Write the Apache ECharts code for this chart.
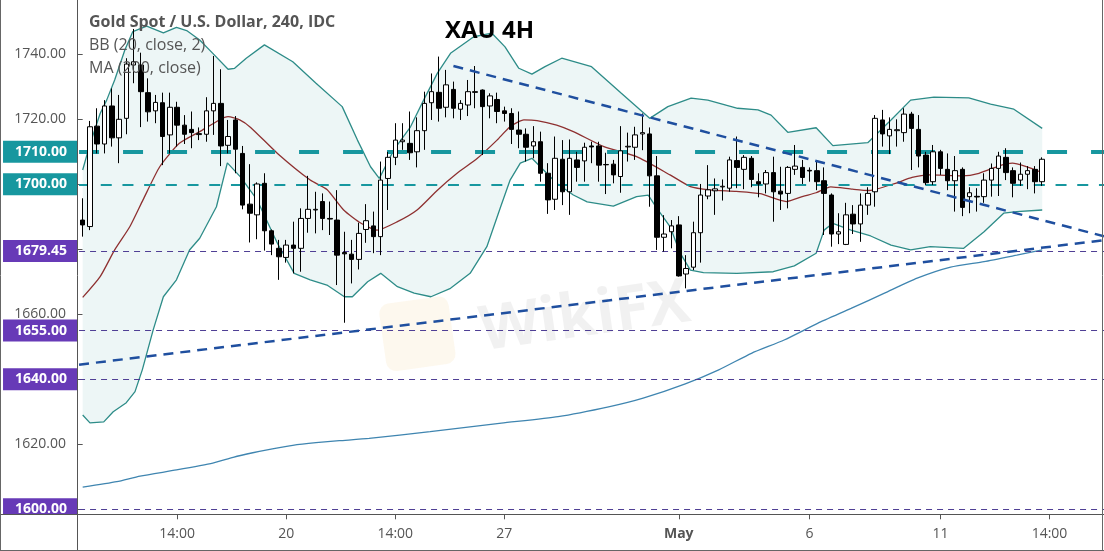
<!DOCTYPE html>
<html><head><meta charset="utf-8">
<script src="https://cdn.jsdelivr.net/npm/echarts@6/dist/echarts.min.js"></script>
<style>html,body{margin:0;padding:0;background:#fff}#c{width:1104px;height:551px}</style>
</head><body><div id="c"></div>
<script>
// ---------- DATA ----------
const N_SLOTS = 141;                       // 4h bar slots on the time axis (incl. right margin)
const tickIdx  = [13, 28, 43, 58, 82, 100, 118, 133];
const tickText = ['14:00', '20', '14:00', '27', 'May', '6', '11', '14:00'];

// candles: [open, close, low, high]
const candles = [
[1689.0,1687.5,1683.9,1695.7],[1687.0,1717.7,1685.9,1719.5],[1717.9,1712.4,1709.5,1723.4],[1712.4,1724.1,1709.5,1725.9],
[1724.1,1714.3,1711.6,1729.5],[1714.3,1720.0,1706.5,1727.5],[1720.3,1737.0,1715.4,1738.8],[1736.7,1737.7,1731.1,1747.8],
[1736.7,1728.5,1717.6,1740.5],[1728.2,1722.3,1719.3,1732.6],[1722.6,1725.2,1718.8,1727.5],[1725.1,1714.7,1705.9,1728.2],
[1715.2,1723.7,1709.5,1728.2],[1723.7,1718.2,1711.6,1725.4],[1718.2,1715.4,1712.4,1721.3],[1716.9,1715.9,1711.1,1722.4],
[1715.3,1715.6,1713.6,1717.5],[1715.4,1722.6,1713.1,1726.8],[1722.6,1724.9,1715.2,1739.5],[1724.9,1711.8,1705.6,1735.4],
[1712.0,1714.7,1709.5,1719.8],[1719.8,1710.8,1703.4,1721.0],[1709.5,1693.6,1692.3,1711.8],[1693.9,1691.1,1682.1,1706.2],
[1690.6,1700.1,1683.1,1700.6],[1700.3,1685.7,1679.6,1703.4],[1685.7,1681.6,1678.2,1686.1],[1680.3,1677.7,1670.6,1682.9],
[1677.5,1681.3,1675.9,1682.9],[1681.3,1680.3,1672.6,1688.5],[1680.3,1689.5,1673.1,1692.6],[1689.5,1692.3,1685.1,1702.6],
[1692.1,1692.3,1684.9,1697.7],[1694.7,1689.5,1685.9,1697.2],[1689.5,1689.3,1684.4,1694.7],[1689.0,1678.2,1669.0,1698.2],
[1679.0,1678.6,1657.4,1685.4],[1678.5,1676.9,1669.5,1682.9],[1676.9,1684.9,1673.8,1688.2],[1686.1,1688.8,1682.0,1693.9],
[1687.2,1683.9,1678.8,1691.6],[1683.9,1701.3,1678.2,1707.0],[1701.8,1708.3,1692.1,1710.0],[1708.3,1713.6,1705.9,1718.8],
[1713.1,1713.6,1710.6,1718.8],[1712.6,1709.7,1707.5,1722.4],[1710.0,1716.5,1705.2,1720.6],[1716.5,1724.9,1710.6,1728.5],
[1725.1,1728.5,1719.8,1734.1],[1728.3,1723.4,1719.3,1739.3],[1723.7,1730.6,1720.6,1735.2],[1729.2,1723.4,1720.3,1731.6],
[1723.1,1724.9,1719.8,1725.9],[1724.4,1728.5,1721.0,1732.1],[1728.5,1728.3,1723.4,1736.4],[1729.0,1723.9,1709.0,1729.2],
[1724.1,1727.2,1720.3,1728.0],[1726.1,1722.4,1718.8,1728.2],[1722.6,1721.8,1719.3,1723.9],[1721.8,1716.9,1712.4,1723.4],
[1716.7,1715.4,1711.1,1722.4],[1715.4,1711.4,1707.0,1717.2],[1711.8,1713.1,1708.0,1717.9],[1713.1,1703.4,1700.8,1716.2],
[1703.4,1695.2,1690.9,1706.5],[1695.4,1708.0,1692.1,1714.7],[1707.7,1697.7,1693.6,1713.6],[1697.7,1708.0,1690.6,1713.8],
[1707.5,1705.2,1700.8,1710.0],[1707.2,1711.4,1700.8,1712.8],[1711.8,1711.5,1706.5,1713.1],[1711.8,1705.9,1700.8,1713.1],
[1706.1,1706.0,1697.0,1709.7],[1706.2,1702.9,1700.3,1707.5],[1702.4,1710.3,1697.4,1717.9],[1711.5,1711.7,1707.0,1715.9],
[1711.4,1715.2,1707.5,1717.7],[1715.5,1715.9,1710.5,1721.8],[1715.5,1702.6,1693.1,1717.5],[1702.6,1683.7,1679.8,1708.7],
[1683.7,1684.7,1679.3,1690.5],[1685.4,1687.2,1680.3,1689.0],[1687.5,1671.8,1671.6,1690.2],[1672.4,1674.1,1668.0,1678.2],
[1674.5,1685.1,1673.6,1688.5],[1685.1,1696.7,1675.9,1700.1],[1696.4,1698.3,1695.4,1705.9],[1698.0,1698.6,1690.6,1701.8],
[1699.2,1699.4,1695.0,1701.5],[1698.8,1707.5,1697.7,1708.5],[1707.3,1705.2,1698.8,1714.7],[1704.6,1708.3,1698.5,1709.0],
[1708.0,1701.5,1699.1,1708.7],[1700.8,1700.1,1696.0,1703.4],[1700.1,1703.6,1697.2,1704.4],[1703.6,1697.7,1688.5,1708.5],
[1697.9,1697.0,1692.1,1705.4],[1697.2,1705.2,1692.6,1705.6],[1704.6,1705.6,1702.9,1712.1],[1705.2,1702.1,1700.1,1707.5],
[1704.3,1704.1,1700.8,1705.2],[1704.2,1700.8,1698.2,1707.0],[1701.1,1697.2,1684.4,1705.2],[1696.7,1684.7,1680.8,1697.2],
[1684.7,1685.4,1681.6,1691.1],[1681.5,1690.6,1681.3,1694.3],[1690.8,1687.8,1684.7,1693.6],[1687.8,1693.6,1682.3,1697.2],
[1693.6,1697.2,1690.6,1699.1],[1697.7,1720.3,1693.1,1721.3],[1719.8,1715.5,1711.6,1722.9],[1714.9,1716.9,1709.3,1720.6],
[1716.5,1716.8,1711.6,1720.0],[1715.9,1721.6,1713.1,1723.4],[1721.6,1717.2,1704.4,1722.3],[1716.9,1708.7,1705.2,1721.3],
[1709.0,1700.5,1699.8,1710.0],[1700.8,1710.0,1699.8,1712.1],[1710.0,1704.9,1702.9,1710.6],[1704.6,1701.1,1698.2,1709.5],
[1701.1,1704.2,1691.6,1708.7],[1704.6,1692.9,1690.2,1705.2],[1696.2,1697.4,1691.1,1699.1],[1696.3,1696.1,1691.6,1698.8],
[1696.2,1701.3,1694.3,1703.4],[1701.3,1704.9,1696.2,1706.4],[1704.9,1708.7,1696.4,1710.0],[1708.3,1703.6,1701.3,1711.1],
[1704.2,1700.3,1696.0,1705.2],[1701.3,1703.1,1699.5,1706.7],[1703.1,1704.2,1698.5,1705.6],[1704.6,1700.8,1697.2,1705.6],
[1700.8,1707.7,1699.5,1708.3]
];

// indicator lines: [bar index, price]
const bbUpper = [[0,1704.4],[0.9,1711.6],[2.4,1721.8],[3.3,1725.9],[4.4,1732.1],[5.8,1741.3],[6.9,1747.0],[8.8,1748.7],
[11.1,1746.6],[12.9,1748.3],[14.3,1747.3],[16.1,1744.4],[17.9,1740.3],[20.0,1735.4],[20.9,1735.7],[22.5,1738.8],[25.0,1742.9],
[28.9,1737.7],[32.1,1731.1],[35.7,1723.9],[37.8,1713.6],[39.6,1705.4],[40.8,1701.8],[42.8,1710.6],[45.1,1717.7],[46.9,1725.9],
[48.8,1734.2],[50.6,1740.3],[53.8,1745.4],[56.3,1746.5],[58.1,1742.3],[60.0,1735.7],[61.8,1733.9],[63.6,1736.2],[65.9,1738.8],
[70.0,1736.2],[74.1,1728.0],[78.0,1720.3],[80.5,1723.9],[83.7,1726.5],[86.0,1725.9],[90.1,1723.4],[92.9,1722.9],[94.7,1721.3],
[97.0,1716.0],[100.9,1717.4],[103.2,1711.9],[108.0,1712.8],[111.2,1719.8],[113.9,1725.9],[117.1,1726.8],[121.9,1726.6],
[124.9,1724.7],[128.1,1723.1],[132.0,1717.2]];
const bbLower = [[0,1629.0],[1.0,1626.6],[2.9,1626.9],[4.2,1630.0],[6.0,1632.8],[7.2,1636.2],[8.2,1642.9],[9.7,1655.2],
[11.1,1665.4],[12.9,1670.6],[14.7,1679.8],[16.1,1683.4],[18.4,1693.1],[19.9,1706.6],[21.7,1702.3],[24.0,1695.2],[26.8,1681.8],
[29.1,1672.6],[31.3,1670.6],[33.6,1669.0],[36.0,1665.4],[37.1,1665.4],[39.2,1670.0],[41.0,1672.6],[43.3,1668.5],[45.6,1666.5],
[47.9,1665.4],[50.6,1668.0],[53.3,1672.6],[55.6,1680.8],[57.5,1693.1],[58.8,1701.3],[60.2,1706.5],[61.8,1708.0],[63.4,1704.4],
[65.2,1700.3],[67.5,1696.7],[69.4,1694.6],[73.0,1693.3],[76.2,1696.2],[77.8,1696.7],[79.0,1692.6],[80.8,1687.0],[82.2,1678.8],
[83.6,1673.6],[85.4,1672.8],[90.0,1672.6],[95.0,1673.1],[97.9,1674.9],[100.9,1678.8],[102.0,1685.9],[103.2,1688.0],[105.7,1685.9],
[108.4,1684.1],[111.2,1681.3],[113.9,1679.8],[116.6,1680.8],[121.2,1680.3],[124.0,1685.4],[126.7,1691.1],[128.5,1691.6],[132.0,1692.1]];
const ma20 = [[0,1665.2],[2.4,1671.6],[4.4,1679.8],[6.5,1687.0],[8.3,1695.2],[10.6,1705.4],[13.3,1712.6],[16.1,1716.2],
[18.8,1719.8],[20.0,1720.8],[21.6,1719.8],[23.1,1717.5],[26.8,1709.5],[31.3,1701.3],[33.6,1698.4],[35.9,1692.1],[38.3,1688.0],
[40.5,1685.9],[43.3,1688.5],[46.0,1692.1],[48.8,1698.2],[51.5,1703.4],[54.3,1708.0],[57.0,1713.6],[58.8,1717.7],[60.7,1719.8],
[62.5,1719.6],[65.2,1718.2],[67.5,1716.2],[71.7,1711.6],[76.2,1708.5],[80.8,1702.9],[83.6,1699.3],[86.3,1698.3],[89.9,1697.8],
[93.2,1697.1],[96.8,1694.7],[99.1,1696.3],[100.9,1697.4],[102.9,1699.2],[105.9,1698.5],[108.2,1698.1],[111.8,1700.3],
[114.1,1702.1],[116.4,1702.9],[121.0,1702.6],[123.3,1703.4],[126.5,1706.0],[127.9,1706.5],[129.7,1705.5],[132.0,1703.6]];
const ma200 = [[0,1606.8],[4.7,1608.5],[7.9,1610.2],[12.9,1612.1],[17.9,1614.2],[20.7,1616.0],[23.4,1617.4],[26.1,1618.6],
[28.9,1619.7],[32.1,1620.5],[35.3,1621.1],[39.4,1621.8],[47.8,1623.9],[57.6,1626.5],[65.4,1628.5],[72.5,1631.6],[77.1,1634.2],
[82.9,1638.6],[87.5,1642.9],[92.0,1648.0],[96.5,1652.1],[101.1,1657.2],[105.7,1661.8],[110.3,1666.5],[114.8,1671.1],
[119.4,1674.5],[124.0,1676.2],[128.5,1678.2],[132.0,1679.8]];

// drawn trend lines: [bar index, price]
const supportLine    = [[-0.5,1644.5],[140.5,1682.8]];
const resistanceLine = [[51.0,1736.4],[140.5,1684.0]];
// horizontal levels
const tealLevels   = [1710, 1700];
const purpleLevels = [1679.45, 1655, 1640, 1600];

// ---------- CHART ----------
const SLOT = 7.292, LEFT = 79.05;
const categories = Array.from({length: N_SLOTS}, (_, i) => {
  const k = tickIdx.indexOf(i); return k >= 0 ? tickText[k] : '';
});
const TEAL = '#17979f', PURPLE = '#673ab7';
const boxLabel = (bg) => ({
  show: true, position: 'start', distance: 2,
  formatter: p => Number(p.value).toFixed(2),
  color: '#fff', fontFamily: 'Open Sans', fontWeight: 'bold', fontSize: 14, lineHeight: 14,
  backgroundColor: bg, padding: [4, 10, 4, 12]
});
const hlineData = [
  {yAxis: tealLevels[0], lineStyle: {color: TEAL, width: 4, type: [20, 24]}, label: boxLabel(TEAL)},
  {yAxis: tealLevels[1], lineStyle: {color: TEAL, width: 2.2, type: [11, 10.7]}, label: boxLabel(TEAL)}
].concat(purpleLevels.map(v => ({yAxis: v, lineStyle: {color: '#4f3f95', width: 1.1, type: [6, 5]}, label: boxLabel(PURPLE)})));

const chart = echarts.init(document.getElementById('c'));
chart.setOption({
  animation: false,
  backgroundColor: '#fff',
  grid: {left: LEFT, right: 1104 - LEFT - N_SLOTS * SLOT, top: 0, bottom: 36.7},
  xAxis: [{
    type: 'category', data: categories, boundaryGap: true,
    axisLine: {show: false},
    axisTick: {show: true, alignWithLabel: true, length: 5, interval: (i, v) => v !== '', lineStyle: {color: '#555'}},
    axisLabel: {interval: 0, margin: 13, color: '#555', fontFamily: 'Open Sans', fontSize: 14,
      formatter: v => v === 'May' ? '{b|May}' : v,
      rich: {b: {fontWeight: 'bold', fontFamily: 'Open Sans', fontSize: 14, color: '#555'}}},
    splitLine: {show: false}
  }, {
    type: 'value', min: -0.5, max: N_SLOTS - 0.5, show: false
  }],
  yAxis: {
    type: 'value', min: 1598.46, max: 1756.71, splitNumber: 8, offset: 2,
    axisLine: {show: false},
    axisTick: {show: true, length: 5, lineStyle: {color: '#555'}},
    axisLabel: {showMinLabel: false, showMaxLabel: false, margin: 11, color: '#555',
      fontFamily: 'Open Sans', fontSize: 14, formatter: v => v.toFixed(2)},
    splitLine: {show: false}
  },
  series: [
    { type: 'custom', xAxisIndex: 1, silent: true, z: 1, data: [[0, 1700]],
      renderItem: (params, api) => {
        const pts = bbUpper.map(d => api.coord(d)).concat(bbLower.slice().reverse().map(d => api.coord(d)));
        return {type: 'polygon', shape: {points: pts}, style: {fill: '#edf6f6'}};
      }},
    { type: 'line', xAxisIndex: 1, data: bbUpper, symbol: 'none', z: 2, lineStyle: {color: '#2d8c88', width: 1.3} },
    { type: 'line', xAxisIndex: 1, data: bbLower, symbol: 'none', z: 2, lineStyle: {color: '#2d8c88', width: 1.3} },
    { type: 'line', xAxisIndex: 1, data: ma20, symbol: 'none', z: 2, smooth: 0.2, lineStyle: {color: '#8e3030', width: 1.3} },
    { type: 'line', xAxisIndex: 1, data: ma200, symbol: 'none', z: 2, smooth: 0.2, lineStyle: {color: '#3f85b0', width: 1.3} },
    { type: 'candlestick', xAxisIndex: 0, data: candles, barWidth: 5, z: 5,
      itemStyle: {color: '#ffffff', color0: '#000000', borderColor: '#000000', borderColor0: '#000000', borderWidth: 1} },
    { type: 'line', xAxisIndex: 1, data: supportLine, symbol: 'none', z: 8,
      lineStyle: {color: '#1f4f9f', width: 2.5, type: [10, 7]} },
    { type: 'line', xAxisIndex: 1, data: resistanceLine, symbol: 'none', z: 8,
      lineStyle: {color: '#1f4f9f', width: 2.5, type: [10, 7]} },
    { type: 'line', xAxisIndex: 1, data: [], z: 9,
      markLine: {symbol: ['none', 'none'], silent: true, animation: false, data: hlineData} }
  ],
  graphic: [
    {type: 'text', z: 1, silent: true, x: 585, y: 318, rotation: 0.14, style: {text: 'WikiFX', x: 0, y: 0, align: 'center', verticalAlign: 'middle', font: 'bold 62px "Open Sans"', fill: 'rgba(0,0,0,0.055)'}},
    {type: 'rect', z: 1, silent: true, x: 378, y: 305, rotation: 0.14, shape: {width: 70, height: 68, r: 10}, style: {fill: 'rgba(240,190,90,0.10)'}},
    {type: 'rect', z: 50, silent: true, shape: {x: 1, y: 515, width: 76, height: 35}, style: {fill: '#fff'}},
    {type: 'line', z: 51, silent: true, shape: {x1: 77.5, y1: 0, x2: 77.5, y2: 551}, style: {stroke: '#555', lineWidth: 1}},
    {type: 'line', z: 51, silent: true, shape: {x1: 0, y1: 514.5, x2: 1104, y2: 514.5}, style: {stroke: '#555', lineWidth: 1}},
    {type: 'line', z: 51, silent: true, shape: {x1: 0.5, y1: 0, x2: 0.5, y2: 551}, style: {stroke: '#666', lineWidth: 1}},
    {type: 'line', z: 51, silent: true, shape: {x1: 0, y1: 550.5, x2: 1104, y2: 550.5}, style: {stroke: '#666', lineWidth: 1}},
    {type: 'line', z: 51, silent: true, shape: {x1: 1102.5, y1: 0, x2: 1102.5, y2: 551}, style: {stroke: '#666', lineWidth: 1}},
    {type: 'text', z: 60, silent: true, x: 89, y: 22, style: {text: 'Gold Spot / U.S. Dollar, 240, IDC', verticalAlign: 'middle', font: 'bold 16px "Open Sans"', fill: '#555'}},
    {type: 'text', z: 60, silent: true, x: 89, y: 45, style: {text: 'BB (20, close, 2)', verticalAlign: 'middle', font: '16px "Open Sans"', fill: '#555'}},
    {type: 'text', z: 60, silent: true, x: 89, y: 68, style: {text: 'MA (200, close)', verticalAlign: 'middle', font: '16px "Open Sans"', fill: '#555'}},
    {type: 'text', z: 60, silent: true, x: 445, y: 31, style: {text: 'XAU 4H', verticalAlign: 'middle', font: 'bold 24px "Open Sans"', fill: '#000'}}
  ]
});
</script></body></html>
